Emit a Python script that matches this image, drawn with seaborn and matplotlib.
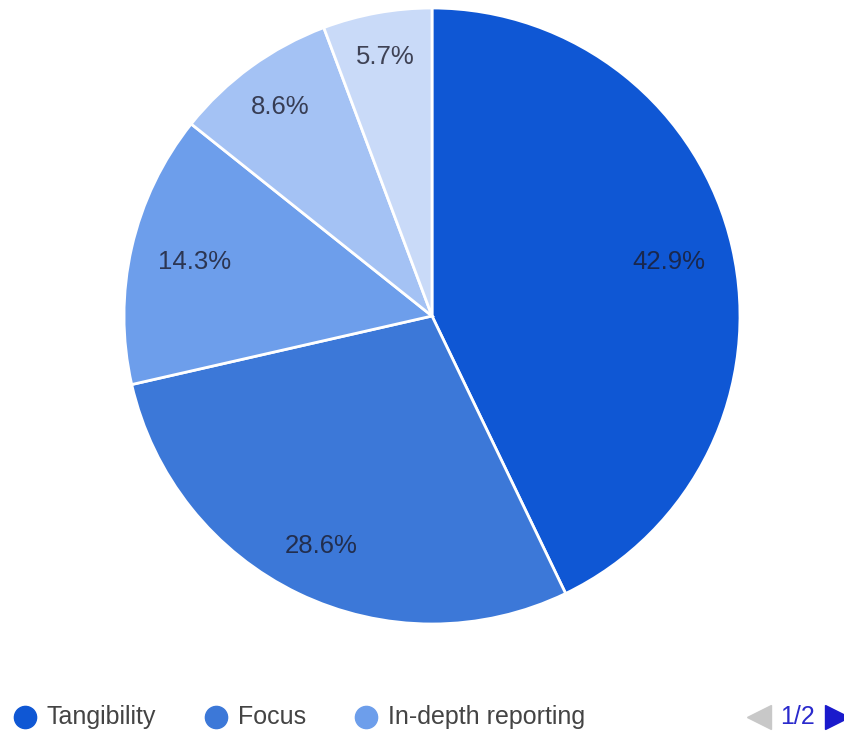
import matplotlib
matplotlib.use("Agg")
import matplotlib.pyplot as plt
from matplotlib.lines import Line2D
import numpy as np
import seaborn as sns

# Share of responses by category (counts out of 35)
categories = ["Tangibility", "Focus", "In-depth reporting", "Other A", "Other B"]
counts = [15, 10, 5, 3, 2]
percent_labels = ["42.9%", "28.6%", "14.3%", "8.6%", "5.7%"]
legend_shown = categories[:3]
page_label = "1/2"

sns.set_theme(style="white")
plt.rcParams["font.family"] = ["Liberation Sans", "DejaVu Sans"]

colors = sns.color_palette(["#0f57d4", "#3c78d8", "#6d9eeb", "#a4c2f4", "#c9daf8"])

W, H = 845, 734
fig = plt.figure(figsize=(W / 100, H / 100), dpi=100)
fig.patch.set_facecolor("white")

cx, cy, r = 432, 316, 308
ax = fig.add_axes([(cx - r) / W, (H - cy - r) / H, 2 * r / W, 2 * r / H])
wedges, _ = ax.pie(
    counts,
    colors=colors,
    startangle=90,
    counterclock=False,
    radius=1.0,
    wedgeprops=dict(edgecolor="white", linewidth=2),
)
ax.set_xlim(-1, 1)
ax.set_ylim(-1, 1)
ax.set_aspect("equal")
ax.axis("off")

# Percentage labels placed along each wedge's mid-angle
label_radius = [0.79, 0.83, 0.79, 0.84, 0.855]
for w, txt, rr in zip(wedges, percent_labels, label_radius):
    mid = np.deg2rad((w.theta1 + w.theta2) / 2)
    ax.text(rr * np.cos(mid), rr * np.sin(mid), txt, ha="center", va="center",
            fontsize=18.5, color="#1c1c2c", alpha=0.8)

# Paged legend along the bottom
ly = 1 - 717 / H
marker_x = [25, 216, 366]
for name, col, mx in zip(legend_shown, colors, marker_x):
    fig.add_artist(Line2D([mx / W], [ly], marker="o", markersize=16,
                          color=col, linestyle="none", transform=fig.transFigure))
    fig.text((mx + 22) / W, ly, name, ha="left", va="center",
             fontsize=18, color="#444444")

fig.add_artist(Line2D([759 / W], [ly], marker="<", markersize=17, color="#c8c8c8",
                      linestyle="none", transform=fig.transFigure))
fig.text(798 / W, ly, page_label, ha="center", va="center", fontsize=18, color="#2a2acc")
fig.add_artist(Line2D([837 / W], [ly], marker=">", markersize=17, color="#1a1acc",
                      linestyle="none", transform=fig.transFigure))

fig.savefig("out.png", dpi=100, facecolor="white")
